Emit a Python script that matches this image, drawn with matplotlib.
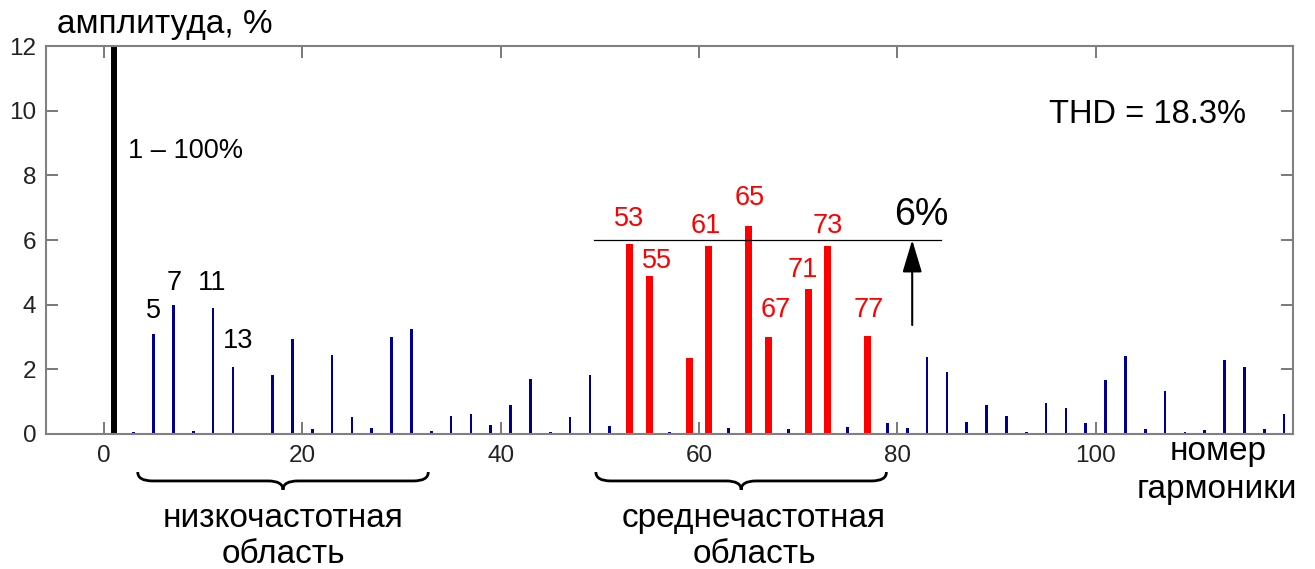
import matplotlib
matplotlib.use("Agg")
import matplotlib.pyplot as plt
import matplotlib.transforms as mtransforms
from matplotlib.path import Path
from matplotlib.patches import PathPatch

plt.rcParams['font.family'] = ['Liberation Sans', 'DejaVu Sans']

# data: harmonic number -> amplitude, %
fund_h = [1]
fund_v = [100]
blue_h = [3, 5, 7, 9, 11, 13, 15, 17, 19, 21, 23, 25, 27, 29, 31, 33, 35, 37, 39, 41,
          43, 45, 47, 49, 51, 57, 63, 69, 75, 79, 81, 83, 85, 87, 89, 91, 93, 95, 97,
          99, 101, 103, 105, 107, 109, 111, 113, 115, 117, 119]
blue_v = [0.07, 3.09, 3.99, 0.10, 3.91, 2.08, 0.03, 1.83, 2.93, 0.14, 2.45, 0.54, 0.18,
          3.01, 3.25, 0.10, 0.56, 0.63, 0.27, 0.90, 1.70, 0.06, 0.52, 1.81, 0.24, 0.07,
          0.18, 0.17, 0.22, 0.34, 0.20, 2.39, 1.93, 0.37, 0.89, 0.56, 0.06, 0.95, 0.81,
          0.33, 1.66, 2.40, 0.14, 1.34, 0.05, 0.13, 2.30, 2.06, 0.14, 0.62]
red_h = [53, 55, 59, 61, 65, 67, 71, 73, 77]
red_v = [5.88, 4.89, 2.35, 5.81, 6.43, 3.01, 4.48, 5.81, 3.04]

# labels
blue_lbl = ['5', '7', '11', '13']
blue_lbl_pos = [(5.0, 3.59), (7.1, 4.45), (10.9, 4.45), (13.5, 2.66)]
red_lbl = ['53', '55', '61', '65', '67', '71', '73', '77']
red_lbl_pos = [(53.0, 6.43), (55.8, 5.13), (60.7, 6.22), (65.1, 7.08),
               (67.7, 3.63), (70.5, 4.87), (73.0, 6.22), (77.1, 3.63)]
level = 6.0
level_span = (49.4, 84.4)
arrow_x, arrow_from = 81.5, 3.37
brace_low = (3.4, 32.7)
brace_mid = (49.6, 78.9)

BLUE = '#00008E'
W, H = 1315, 569

fig = plt.figure(figsize=(W / 100, H / 100), dpi=100)
ax = fig.add_axes([46 / W, 1 - 434 / H, (1293 - 46) / W, (434 - 46) / H])

ax.bar(blue_h, blue_v, width=0.27, color=BLUE)
ax.bar(red_h, red_v, width=0.7, color='red')
ax.bar(fund_h, fund_v, width=0.6, color='black')

ax.set_xlim(-5.85, 119.9)
ax.set_ylim(0, 12)
ax.set_xticks(range(0, 101, 20))
ax.set_yticks(range(0, 13, 2))
ax.tick_params(direction='in', length=8.5, width=1.1, color='#555555',
               labelsize=17.5, labelcolor='#222222', top=True, right=True)
ax.tick_params(axis='x', pad=8)
ax.tick_params(axis='y', pad=7)
for s in ax.spines.values():
    s.set_color('#808080')
    s.set_linewidth(1.5)

# annotations inside the axes
for t, (x, y) in zip(blue_lbl, blue_lbl_pos):
    ax.text(x, y, t, fontsize=19.5, ha='center', va='baseline')
for t, (x, y) in zip(red_lbl, red_lbl_pos):
    ax.text(x, y, t, fontsize=19.5, ha='center', va='baseline', color='red')
ax.text(2.42, 8.54, '1 – 100%', fontsize=19.5, ha='left', va='baseline')
ax.text(105.2, 9.62, 'THD = 18.3%', fontsize=23.5, ha='center', va='baseline')
ax.text(82.4, 6.46, '6%', fontsize=27, ha='center', va='baseline')
ax.plot(level_span, [level, level], color='black', lw=0.9)
ax.annotate('', xy=(arrow_x, level), xytext=(arrow_x, arrow_from),
            arrowprops=dict(arrowstyle='-|>,head_length=1.0,head_width=0.3',
                            mutation_scale=20, color='black', lw=1.5,
                            shrinkA=0, shrinkB=0))

# braces under the axis
trans = mtransforms.blended_transform_factory(ax.transData, ax.transAxes)

def brace(x0, x1):
    ytop, yline, ytip = -0.098, -0.121, -0.144
    r = 1.5
    xc = (x0 + x1) / 2
    verts = [(x0, ytop), (x0, yline), (x0 + r, yline), (xc - r, yline),
             (xc, yline), (xc, ytip),
             (xc, ytip), (xc, yline), (xc + r, yline), (x1 - r, yline),
             (x1, yline), (x1, ytop)]
    codes = [Path.MOVETO, Path.CURVE3, Path.CURVE3, Path.LINETO,
             Path.CURVE3, Path.CURVE3,
             Path.MOVETO, Path.CURVE3, Path.CURVE3, Path.LINETO,
             Path.CURVE3, Path.CURVE3]
    ax.add_patch(PathPatch(Path(verts, codes), fill=False, lw=2.0,
                           edgecolor='black', transform=trans, clip_on=False))

brace(*brace_low)
brace(*brace_mid)

# texts outside the axes (pixel positions of the reference)
def ftext(px, py, s, size=24, **kw):
    fig.text(px / W, 1 - py / H, s, fontsize=size, va='baseline', **kw)

ftext(57, 33, 'амплитуда, %', ha='left')
ftext(283, 526.7, 'низкочастотная', ha='center')
ftext(283, 562.7, 'область', ha='center')
ftext(754, 526.7, 'среднечастотная', ha='center')
ftext(754, 562.7, 'область', ha='center')
ftext(1218, 460, 'номер', ha='center')
ftext(1217, 498, 'гармоники', ha='center')

fig.savefig('out.png', dpi=100)
